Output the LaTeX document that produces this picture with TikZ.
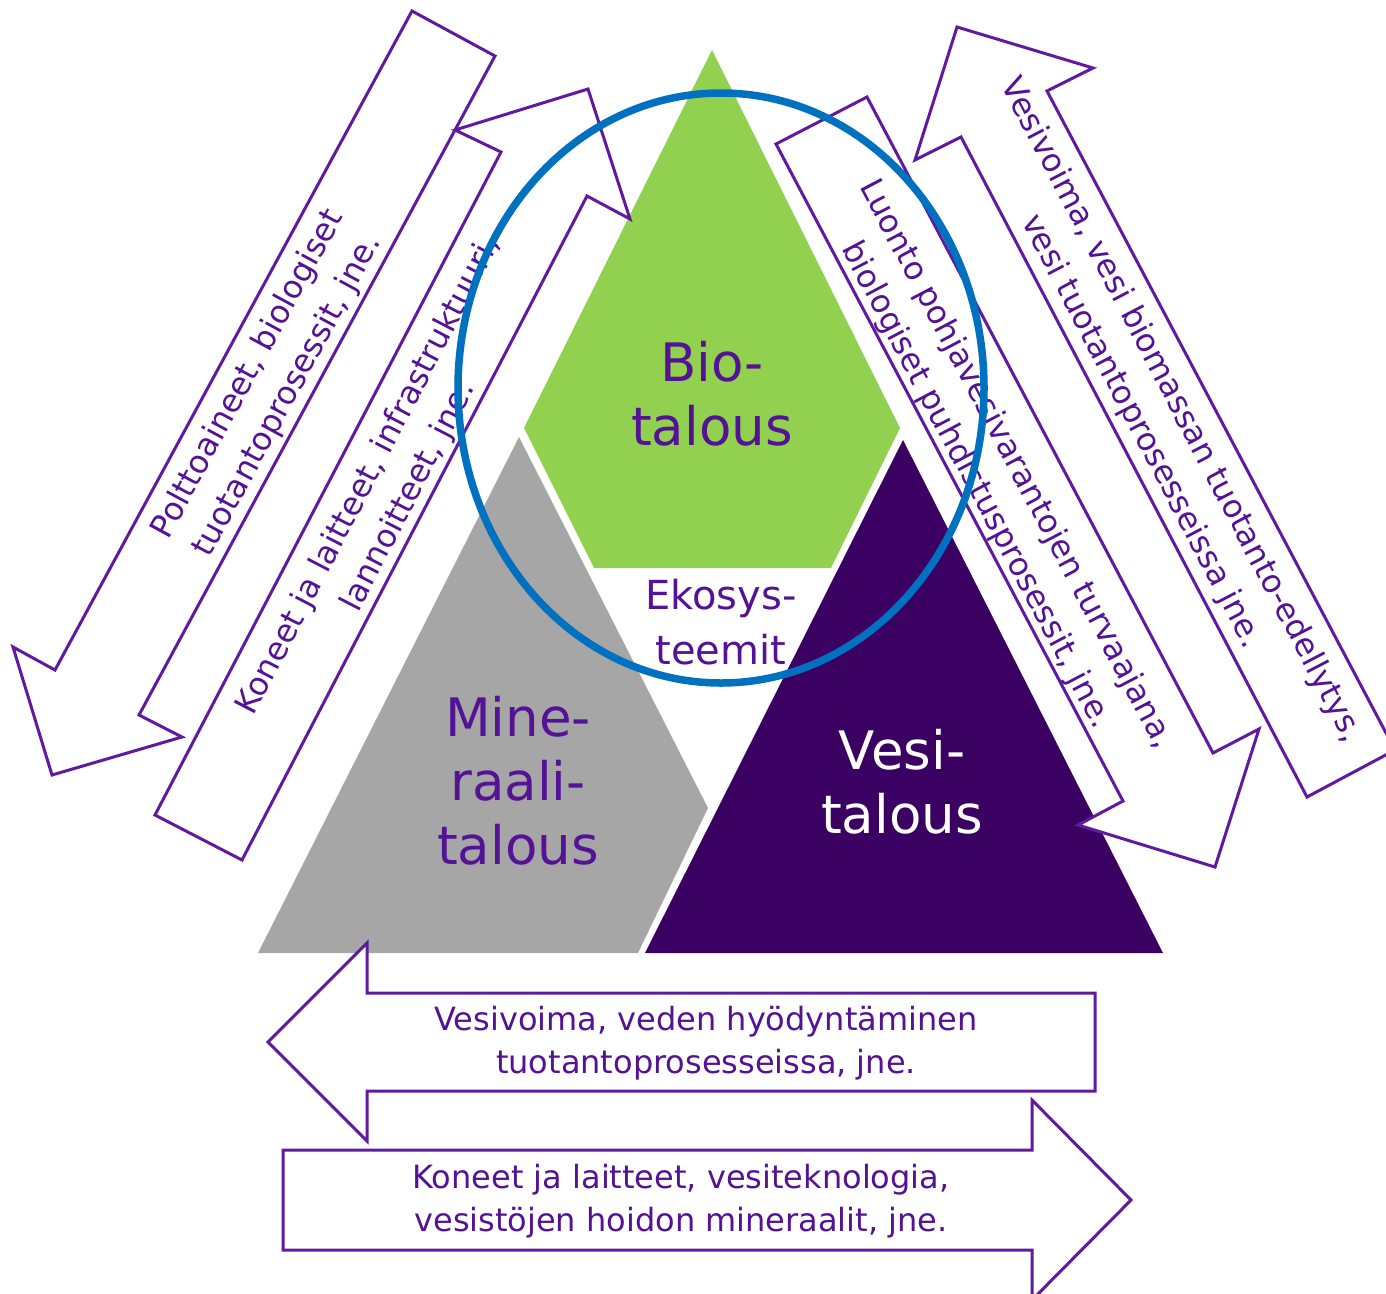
\documentclass[tikz,border=0pt]{standalone}
\usepackage{fontspec}
\setmainfont{DejaVu Sans}
\usetikzlibrary{shapes}

\definecolor{biofill}{RGB}{146,208,80}
\definecolor{minfill}{RGB}{166,166,166}
\definecolor{vesifill}{RGB}{58,0,98}
\definecolor{labeltext}{RGB}{84,18,148}
\definecolor{arrowline}{RGB}{96,26,160}
\definecolor{ringblue}{RGB}{0,112,192}

\begin{document}
\begin{tikzpicture}[x=1pt, y=-1pt,
    flow/.style={draw=arrowline, line width=3pt, fill=white, line join=miter},
    flowtext/.style={text=labeltext, align=center, inner sep=0pt, font=\fontsize{32}{45}\selectfont},
    bigtext/.style={align=center, inner sep=0pt, font=\fontsize{53}{64}\selectfont}]

  \useasboundingbox (0,0) rectangle (1386,1293);
  \clip (0,0) rectangle (1386,1293);

  %% the three economies
  \fill[biofill] (712,50) -- (900,428) -- (831,568) -- (594,568) -- (524,428) -- cycle;
  \fill[minfill] (519,437) -- (708,808) -- (638,953) -- (258,953) -- cycle;
  \fill[vesifill] (903,440) -- (1163,953) -- (645,953) -- cycle;

  \node[bigtext, text=labeltext] (bio) at (712,394) {Bio-\\talous};
  \node[bigtext, text=labeltext] (mineraali) at (518,781) {Mine-\\raali-\\talous};
  \node[bigtext, text=white] (vesi) at (902,782) {Vesi-\\talous};
  \node[align=center, inner sep=0pt, text=labeltext, font=\fontsize{40}{55}\selectfont] (ekosys) at (721,622) {Ekosys-\\teemit};

  %% left pair
  \filldraw[flow] (412,11) -- (495,56) -- (139,715) -- (182,737) -- (52,775) -- (13,647) -- (55,670) -- cycle;
  \node[flowtext, rotate=61.6] (polttoaineet) at (268,385) {Polttoaineet, biologiset\\tuotantoprosessit, jne.};

  \filldraw[flow] (155,815) -- (242,860) -- (587,196) -- (630,219) -- (588,89) -- (455,130) -- (501,152) -- cycle;
  \node[flowtext, rotate=62.6] (koneetbio) at (389,486) {Koneet ja laitteet, infrastruktuuri,\\lannoitteet, jne.};

  %% right pair
  \filldraw[flow] (776,144) -- (867,97) -- (1213,753) -- (1259,729) -- (1215,867) -- (1078,825) -- (1123,801) -- cycle;
  \node[flowtext, rotate=-62.2] (luonto) at (996,475) {Luonto pohjavesivarantojen turvaajana,\\biologiset puhdistusprosessit, jne.};

  \filldraw[flow] (957,27) -- (1093,68) -- (1047,91) -- (1395,750) -- (1307,797) -- (961,137) -- (915,160) -- cycle;
  \node[flowtext, rotate=-62.4] (vesivoimabio) at (1161,421) {Vesivoima, vesi biomassan tuotanto-edellytys,\\vesi tuotantoprosesseissa jne.};

  %% bottom pair
  \filldraw[flow] (268,1042) -- (367,943) -- (367,993) -- (1095,993) -- (1095,1091) -- (367,1091) -- (367,1141) -- cycle;
  \node[flowtext, font=\fontsize{32}{43}\selectfont] (vesivoima) at (706,1043) {Vesivoima, veden hyödyntäminen\\tuotantoprosesseissa, jne.};

  \filldraw[flow] (283,1150) -- (1032,1150) -- (1032,1100) -- (1131,1200) -- (1032,1300) -- (1032,1250) -- (283,1250) -- cycle;
  \node[flowtext, font=\fontsize{32}{43}\selectfont] (koneetvesi) at (681,1201) {Koneet ja laitteet, vesiteknologia,\\vesistöjen hoidon mineraalit, jne.};

  %% ring round the bioeconomy
  \draw[ringblue, line width=7.5pt] (721,388) ellipse [x radius=263pt, y radius=295pt];

\end{tikzpicture}
\end{document}
